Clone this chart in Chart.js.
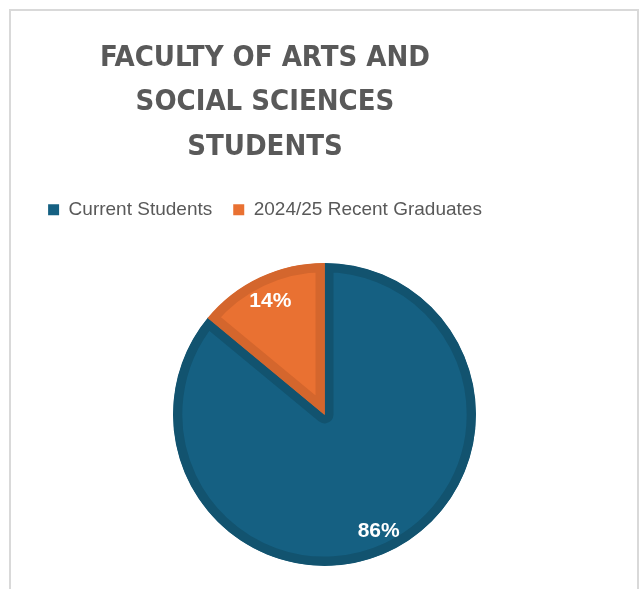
<!DOCTYPE html>
<html>
<head>
<meta charset="utf-8">
<script src="https://cdn.jsdelivr.net/npm/chart.js@4.4.1/dist/chart.umd.min.js"></script>
<style>
  body { margin: 0; background: #fff; }
  #wrap { position: relative; width: 644px; height: 589px; overflow: hidden; }
  #frame { position: absolute; left: 9px; top: 9px; width: 626px; height: 620px; border: 2px solid #d9d9d9; border-bottom: none; }
  #chart { position: absolute; left: 0; top: 0; }
</style>
</head>
<body>
<div id="wrap">
  <div id="frame"></div>
  <canvas id="chart" width="644" height="589"></canvas>
</div>
<script>
// Chart data
const titleLines = ["FACULTY OF ARTS AND", "SOCIAL SCIENCES", "STUDENTS"];
const categories = ["Current Students", "2024/25 Recent Graduates"];
const shares = [86, 14];
const fillColors = ["#156082", "#e97132"];
const edgeColors = ["#12536f", "#d4662d"];

// move the pie right/down inside its area (title + legend sit left of centre in the original)
const pieShift = {
    id: 'pieShift',
    afterLayout(chart) {
        const a = chart.chartArea;
        const dx = 59.5, dy = 5.25;
        a.left += dx; a.right += dx;
        a.top += dy; a.bottom += dy;
    }
};

// percentage labels on the slices
const sliceLabels = {
    id: 'sliceLabels',
    afterDatasetsDraw(chart) {
        const ctx = chart.ctx;
        const meta = chart.getDatasetMeta(0);
        const data = chart.data.datasets[0].data;
        const total = data.reduce((s, v) => s + v, 0);
        ctx.save();
        ctx.fillStyle = "#ffffff";
        ctx.font = "bold 21px 'Liberation Sans', Arial, sans-serif";
        ctx.textAlign = "center";
        ctx.textBaseline = "middle";
        meta.data.forEach((arc, i) => {
            const p = arc.getProps(['x', 'y', 'startAngle', 'endAngle', 'outerRadius'], true);
            const mid = (p.startAngle + p.endAngle) / 2;
            const r = p.outerRadius * 0.84;
            const pct = Math.round(data[i] / total * 100) + "%";
            ctx.fillText(pct, p.x + Math.cos(mid) * r, p.y + Math.sin(mid) * r + 1.5);
        });
        ctx.restore();
    }
};

const ctx = document.getElementById("chart").getContext("2d");
const chart = new Chart(ctx, {
    type: 'pie',
    data: {
        labels: categories,
        datasets: [{
            data: shares,
            backgroundColor: fillColors,
            borderColor: edgeColors,
            borderWidth: 9,
            borderAlign: 'inner',
            radius: 151.5
        }]
    },
    options: {
        responsive: false,
        animation: false,
        devicePixelRatio: 1,
        layout: { padding: { left: 0, right: 114, top: 0, bottom: 0 } },
        plugins: {
            title: {
                display: true,
                text: titleLines,
                color: "#595959",
                font: { family: "'DejaVu Sans Condensed', sans-serif", size: 29, weight: 'bold', lineHeight: 1.55 },
                padding: { top: 35.5, bottom: 9 }
            },
            legend: {
                position: 'top',
                labels: {
                    boxWidth: 11,
                    boxHeight: 11,
                    padding: 21,
                    color: "#595959",
                    font: { family: "'Liberation Sans', Arial, sans-serif", size: 19 },
                    // plain squares, without the slice border width
                    generateLabels(chart) {
                        const items = Chart.overrides.pie.plugins.legend.labels.generateLabels(chart);
                        return items.map(it => ({ ...it, lineWidth: 0, strokeStyle: it.fillStyle }));
                    }
                }
            },
            tooltip: { enabled: false }
        }
    },
    plugins: [pieShift, sliceLabels]
});
</script>
</body>
</html>
